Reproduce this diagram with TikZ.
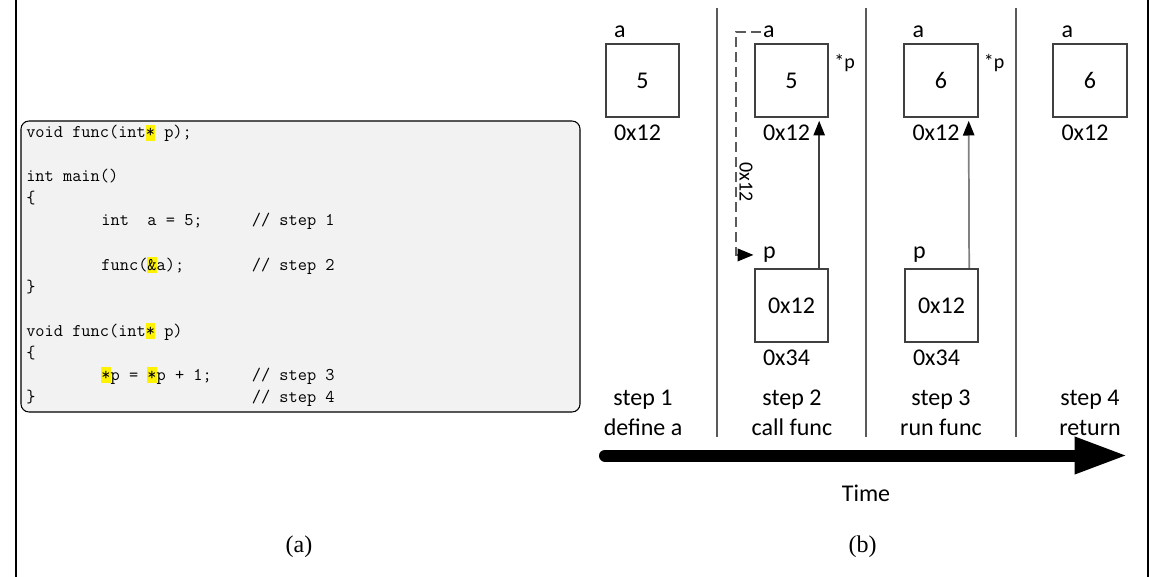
\documentclass[tikz,border=0pt]{standalone}
\usepackage{fontspec}
\usepackage{tikz}
\usetikzlibrary{arrows.meta,positioning}

\newfontfamily\lblfont{Carlito}
\newfontfamily\capfont{Liberation Serif}
\definecolor{codebg}{HTML}{F2F2F2}
\definecolor{boxline}{HTML}{404040}
\definecolor{sepline}{HTML}{5A5A5A}
\newcommand{\hlt}[1]{{\setlength{\fboxsep}{0pt}\colorbox{yellow}{\rule[-2.5pt]{0pt}{12pt}#1}}}

\begin{document}
\begin{tikzpicture}[x=0.75pt, y=-0.75pt,
    code/.style = {anchor=base west, inner sep=0pt, font=\ttfamily\fontsize{13.4}{16.5}\selectfont},
    cell/.style = {draw=boxline, line width=1.5pt, minimum size=55pt, inner sep=0pt,
                   font=\lblfont\fontsize{18}{22}\selectfont},
    lbl/.style  = {inner sep=0pt, font=\lblfont\fontsize{18}{22.5}\selectfont},
    star/.style = {inner sep=0pt, anchor=base west, font=\lblfont\fontsize{15}{18}\selectfont},
    ptr/.style  = {draw=boxline, line width=1.3pt, shorten >=2pt,
                   -{Triangle[length=11pt,width=8.5pt,color=black]}},
    sep/.style  = {draw=sepline, line width=1.5pt},
    subcap/.style = {inner sep=0pt, font=\capfont\fontsize{18}{22}\selectfont}]

  \fill[white] (0,0) rectangle (1152,577);
  \useasboundingbox (0,0) rectangle (1152,577);
  \draw[line width=0.9pt] (16,0) -- (16,577);
  \draw[line width=0.9pt] (1148,0) -- (1148,577);

  % (a) the code
  \draw[fill=codebg, line width=0.8pt, rounded corners=6pt] (21,121) rectangle (580,412);
  \node[code] (c1)  at (26,138)    {void func(int\hlt{*} p);};
  \node[code] (c2)  at (26,182)    {int main()};
  \node[code] (c3)  at (26,204)    {\{};
  \node[code] (c4)  at (101.2,226) {int\ \ a = 5;};
  \node[code] (c5)  at (101.2,270) {func(\hlt{\&}a);};
  \node[code] (c6)  at (26,292)    {\}};
  \node[code] (c7)  at (26,336)    {void func(int\hlt{*} p)};
  \node[code] (c8)  at (26,358)    {\{};
  \node[code] (c9)  at (101.2,380) {\hlt{*}p = \hlt{*}p + 1;};
  \node[code] (c10) at (26,402)    {\}};
  \node[code] (k1)  at (251.6,226) {// step 1};
  \node[code] (k2)  at (251.6,270) {// step 2};
  \node[code] (k3)  at (251.6,380) {// step 3};
  \node[code] (k4)  at (251.6,402) {// step 4};
  \node[subcap] (capa) at (299,547) {(a)};

  % (b) the memory
  \draw[sep] (717,8) -- (717,437);
  \draw[sep] (866,8) -- (866,437);
  \draw[sep] (1016,8) -- (1016,437);

  \node[cell] (a1) at (642.5,80.5) {5};
  \node[cell] (a2) at (791.5,80.5) {5};
  \node[cell] (a3) at (941,80.5)   {6};
  \node[cell] (a4) at (1090,80.5)  {6};
  \node[cell] (p2) at (791.5,305.5) {0x12};
  \node[cell] (p3) at (941.5,305.5) {0x12};

  \node[lbl, anchor=base west] (na1) at ([shift={(9,-5)}]a1.north west) {a};
  \node[lbl, anchor=base west] (na2) at ([shift={(9,-5)}]a2.north west) {a};
  \node[lbl, anchor=base west] (na3) at ([shift={(9,-5)}]a3.north west) {a};
  \node[lbl, anchor=base west] (na4) at ([shift={(9,-5)}]a4.north west) {a};
  \node[lbl, below=4.5pt of a1.south, xshift=-3.75pt] (m1) {0x12};
  \node[lbl, below=4.5pt of a2.south, xshift=-3.75pt] (m2) {0x12};
  \node[lbl, below=4.5pt of a3.south, xshift=-3.75pt] (m3) {0x12};
  \node[lbl, below=4.5pt of a4.south, xshift=-3.75pt] (m4) {0x12};
  \node[star] (s2) at ([shift={(5,26)}]a2.north east) {*p};
  \node[star] (s3) at ([shift={(5,26)}]a3.north east) {*p};

  \node[lbl, anchor=base west] (np2) at ([shift={(9,-9)}]p2.north west) {p};
  \node[lbl, anchor=base west] (np3) at ([shift={(9,-9)}]p3.north west) {p};
  \node[lbl, below=4.5pt of p2.south, xshift=-3.75pt] (q2) {0x34};
  \node[lbl, below=4.5pt of p3.south, xshift=-3.75pt] (q3) {0x34};

  \draw[ptr] ([xshift=-7.5pt]p2.north east) -- ([xshift=-7.5pt]a2.south east);
  \draw[ptr, draw=gray] ([xshift=-7.5pt]p3.north east) -- ([xshift=-7.5pt]a3.south east);

  \draw[draw=sepline, line width=1.3pt, dash pattern=on 7.5pt off 3.75pt,
        shorten <=1.5pt, shorten >=7pt, -{Triangle[length=12pt,width=9.5pt,color=black]}]
    (na2.west) -- ++(-27,0) |- (np2.west);
  \node[lbl, rotate=-90, font=\lblfont\fontsize{15}{18}\selectfont] (adr) at (746,182) {0x12};

  \node[lbl, align=center] (t1) at (643,412.5)  {step 1\\define a};
  \node[lbl, align=center] (t2) at (792,412.5)  {step 2\\call func};
  \node[lbl, align=center] (t3) at (941,412.5)  {step 3\\run func};
  \node[lbl, align=center] (t4) at (1090,412.5) {step 4\\return};

  \coordinate (tl0) at (605,455.5);
  \coordinate (tl1) at (1128,455.5);
  \draw[line width=9pt, line cap=round, -{Triangle[length=40pt,width=25.5pt]}] (tl0) -- (tl1);
  \node[lbl] (time) at (866,493) {Time};
  \node[subcap] (capb) at (862.5,547) {(b)};
\end{tikzpicture}
\end{document}
